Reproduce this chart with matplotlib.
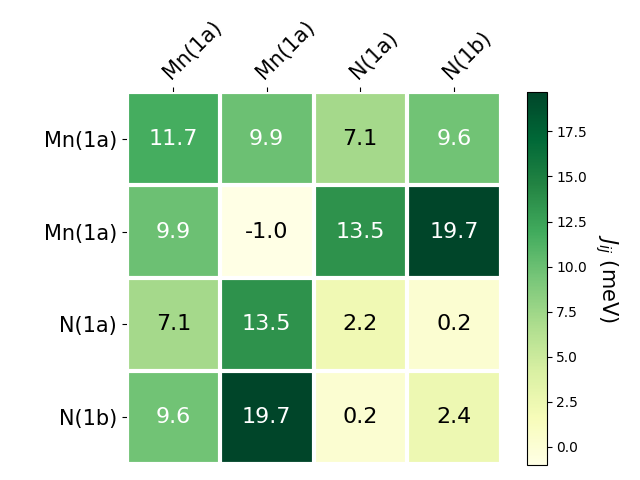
import numpy as np
import matplotlib
matplotlib.use("Agg")
import matplotlib.pyplot as plt

labels = ["Mn(1a)", "Mn(1a)", "N(1a)", "N(1b)"]
values = np.array([
    [11.7, 9.9, 7.1, 9.6],
    [9.9, -1.0, 13.5, 19.7],
    [7.1, 13.5, 2.2, 0.2],
    [9.6, 19.7, 0.2, 2.4],
])

fig = plt.figure(figsize=(6.4, 4.8), dpi=100)
ax = fig.add_axes([126.5 / 640, 16.5 / 480, 374 / 640, 371 / 480])
cax = fig.add_axes([527.3 / 640, 15 / 480, 19.3 / 640, 373.3 / 480])

im = ax.imshow(values, cmap="YlGn", vmin=values.min(), vmax=values.max(),
               aspect="auto", interpolation="nearest")
cb = fig.colorbar(im, cax=cax)
cb.set_label("$J_{ij}$ (meV)", rotation=-90, va="bottom", fontsize=15)
cb.set_ticks(np.arange(0, 19, 2.5))

ax.set_xticks(np.arange(len(labels)), labels=labels, fontsize=15)
ax.set_yticks(np.arange(len(labels)), labels=labels, fontsize=15)
ax.tick_params(top=True, bottom=False, labeltop=True, labelbottom=False)
plt.setp(ax.get_xticklabels(), rotation=45, ha="left", rotation_mode="anchor")

for s in ax.spines.values():
    s.set_visible(False)
for k in range(len(labels) + 1):
    ax.axvline(k - 0.5, color="w", linewidth=3)
    ax.axhline(k - 0.5, color="w", linewidth=3)

thr = im.norm(values.max()) / 2.0
for i in range(values.shape[0]):
    for j in range(values.shape[1]):
        c = "white" if im.norm(values[i, j]) > thr else "black"
        ax.text(j, i, f"{values[i, j]:.1f}", ha="center", va="center", color=c, fontsize=16)

fig.savefig("out.png", dpi=100)
